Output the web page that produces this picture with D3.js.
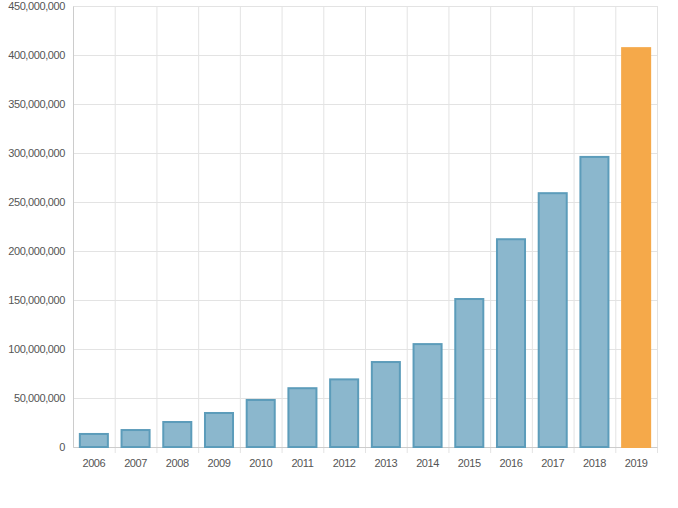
<!DOCTYPE html>
<html><head><meta charset="utf-8">
<script src="https://cdn.jsdelivr.net/npm/d3@7"></script>
<style>body{margin:0;background:#fff}svg text{font-family:"Liberation Sans",Arial,sans-serif;font-size:11px;letter-spacing:-0.4px;fill:#555}</style>
</head><body><svg id="c" width="678" height="508"></svg>
<script>
const years = ["2006","2007","2008","2009","2010","2011","2012","2013","2014","2015","2016","2017","2018","2019"];
const values = [13300000,17300000,25500000,34700000,48000000,60000000,69000000,86700000,105000000,151000000,212000000,259000000,296000000,407000000];
const highlightYear = "2019";

const svg = d3.select("#c");
const m = {top: 6, right: 21, bottom: 61, left: 73};
const w = 678 - m.left - m.right, h = 508 - m.top - m.bottom;
const g = svg.append("g").attr("transform", `translate(${m.left},${m.top})`);

const x = d3.scaleBand().domain(years).range([0, w]).paddingInner(0.28).paddingOuter(0.14);
const xg = d3.scaleBand().domain(years).range([0, w]);
const y = d3.scaleLinear().domain([0, 450000000]).range([h, 0]);

// gridlines
g.append("g").selectAll("line").data(y.ticks(9)).join("line")
  .attr("x1", 0).attr("x2", w).attr("y1", d => y(d) + 0.5).attr("y2", d => y(d) + 0.5)
  .attr("stroke", "#e3e3e3");
g.append("g").selectAll("line").data(years).join("line")
  .attr("x1", (d, i) => (i + 1) * xg.bandwidth() + 0.5).attr("x2", (d, i) => (i + 1) * xg.bandwidth() + 0.5)
  .attr("y1", 0).attr("y2", h + 6).attr("stroke", "#e3e3e3");

// y axis
const ya = g.append("g").call(d3.axisLeft(y).ticks(9).tickSize(0).tickPadding(8).tickFormat(d3.format(",")));
ya.select(".domain").attr("stroke", "#ccc");
// x axis
const xa = g.append("g").attr("transform", `translate(0,${h})`).call(d3.axisBottom(xg).tickSize(0).tickPadding(10));
xa.select(".domain").attr("stroke", "#ccc");
xa.selectAll("text").attr("dy", "0.9em");

g.append("g").selectAll("rect").data(years).join("rect")
  .attr("x", d => x(d) + 1).attr("width", x.bandwidth() - 2)
  .attr("y", (d, i) => y(values[i])).attr("height", (d, i) => h - y(values[i]))
  .attr("fill", d => d === highlightYear ? "#f5a94a" : "#8bb7cd")
  .attr("stroke", d => d === highlightYear ? "#f5a94a" : "#5c9cba")
  .attr("stroke-width", 2);
</script></body></html>
